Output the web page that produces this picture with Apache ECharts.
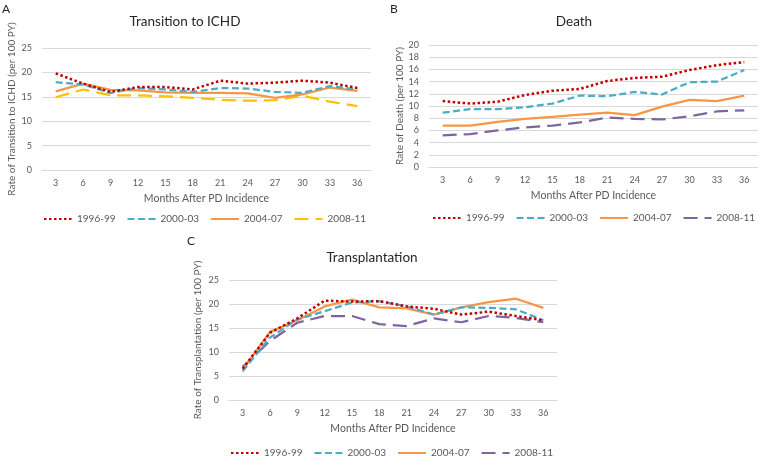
<!DOCTYPE html>
<html>
<head>
<meta charset="utf-8">
<script src="https://cdn.jsdelivr.net/npm/echarts@6/dist/echarts.min.js"></script>
<style>html,body{margin:0;padding:0;background:#fff}#c{width:759px;height:457px}</style>
</head>
<body>
<div id="c"></div>
<script>
// ---- data ----
const months = ['3','6','9','12','15','18','21','24','27','30','33','36'];
const periods = ['1996-99','2000-03','2004-07','2008-11'];

// Panel A: Transition to ICHD
const ichd_1996_99 = [19.8,17.7,16.0,17.0,17.0,16.5,18.3,17.7,17.9,18.3,17.9,16.8];
const ichd_2000_03 = [18.0,17.5,15.8,16.8,16.5,16.0,16.8,16.7,16.0,15.8,17.2,16.5];
const ichd_2004_07 = [16.1,17.7,16.4,16.3,15.9,15.8,15.8,15.7,14.8,15.5,16.9,16.2];
const ichd_2008_11 = [14.9,16.5,15.3,15.3,15.1,14.8,14.4,14.2,14.3,15.2,14.0,13.1];

// Panel B: Death
const death_1996_99 = [10.8,10.4,10.7,11.8,12.5,12.8,14.1,14.6,14.8,15.9,16.7,17.2];
const death_2000_03 = [8.9,9.5,9.5,9.8,10.4,11.7,11.6,12.3,11.9,13.9,14.0,15.9];
const death_2004_07 = [6.8,6.8,7.4,7.9,8.2,8.6,8.9,8.5,9.9,11.0,10.8,11.7];
const death_2008_11 = [5.2,5.4,6.0,6.5,6.8,7.3,8.1,7.9,7.8,8.3,9.1,9.3];

// Panel C: Transplantation
const tx_1996_99 = [6.5,14.0,17.0,20.7,20.5,20.6,19.5,19.0,17.8,18.4,17.5,16.6];
const tx_2000_03 = [6.0,13.0,16.8,18.5,20.3,20.6,19.5,17.8,19.3,19.2,18.9,16.6];
const tx_2004_07 = [6.3,14.2,16.6,19.5,20.9,19.3,19.1,17.8,19.3,20.4,21.1,19.2];
const tx_2008_11 = [6.9,12.3,16.1,17.5,17.5,15.8,15.4,17.0,16.2,17.5,17.1,16.2];

// ---- styles ----
const FONT = 'Lato, "Open Sans", sans-serif';
const TXT = '#595959';
const styleA = [
  {color:'#C00000', type:[2.5,2.5], width:2.5},
  {color:'#4BACC6', type:[7,3.5], width:2.25},
  {color:'#F79646', type:'solid', width:2.25},
  {color:'#FFC000', type:[14,7], width:2.25}
];
const styleBC = [
  {color:'#C00000', type:[2.5,2.5], width:2.5},
  {color:'#4BACC6', type:[7,3.5], width:2.25},
  {color:'#F79646', type:'solid', width:2.25},
  {color:'#8064A2', type:[14,7], width:2.25}
];

const grids = [
  {left:42, right:388, top:48, bottom:287},
  {left:429, right:1, top:45, bottom:290},
  {left:229, right:202, top:280, bottom:57}
];
const yCfg = [
  {max:25, interval:5, name:'Rate of Transition to ICHD (per 100 PY)', gap:25},
  {max:20, interval:2, name:'Rate of Death (per 100 PY)', gap:21},
  {max:25, interval:5, name:'Rate of Transplantation (per 100 PY)', gap:26}
];

const xAxes = grids.map((g,i)=>({
  type:'category', gridIndex:i, data:months, boundaryGap:true,
  axisLine:{lineStyle:{color:'#d9d9d9'}}, axisTick:{show:false},
  axisLabel:{color:TXT, fontFamily:FONT, fontSize:9, margin:9},
  name:'Months After PD Incidence', nameLocation:'middle', nameGap:23,
  nameTextStyle:{color:TXT, fontFamily:FONT, fontSize:10.5}
}));
const yAxes = yCfg.map((c,i)=>({
  type:'value', gridIndex:i, min:0, max:c.max, interval:c.interval,
  axisLine:{show:false}, axisTick:{show:false},
  splitLine:{lineStyle:{color:'#d9d9d9'}},
  axisLabel:{color:TXT, fontFamily:FONT, fontSize:9, margin:10},
  name:c.name, nameLocation:'middle', nameGap:c.gap,
  nameTextStyle:{color:TXT, fontFamily:FONT, fontSize:10}
}));

const panelData = [
  [ichd_1996_99, ichd_2000_03, ichd_2004_07, ichd_2008_11],
  [death_1996_99, death_2000_03, death_2004_07, death_2008_11],
  [tx_1996_99, tx_2000_03, tx_2004_07, tx_2008_11]
];
const tags = ['A','B','C'];
const series = [];
panelData.forEach((arr,pi)=>{
  const st = pi===0 ? styleA : styleBC;
  arr.forEach((d,si)=>{
    series.push({
      name: periods[si]+'|'+tags[pi], type:'line', xAxisIndex:pi, yAxisIndex:pi,
      data:d, symbol:'none', smooth:false, animation:false,
      lineStyle:{color:st[si].color, type:st[si].type, width:st[si].width},
      itemStyle:{color:st[si].color}, z: 10-si
    });
  });
});

const legendPos = [
  {left:38, top:209},
  {left:427, top:208},
  {left:225, top:443}
];
const legends = legendPos.map((p,pi)=>({
  left:p.left, top:p.top, width:360, itemWidth:28, itemHeight:12, itemGap:11,
  data: periods.map(n=>n+'|'+tags[pi]),
  formatter: n=>n.split('|')[0],
  itemStyle:{opacity:0},
  textStyle:{color:TXT, fontFamily:FONT, fontSize:10}, selectedMode:false
}));

const txt = (text,x,y,size,align)=>({type:'text', x:x, y:y,
  style:{text:text, fontFamily:FONT, fontSize:size, fill:'#262626', textAlign:align||'center', textVerticalAlign:'middle'}});

const chart = echarts.init(document.getElementById('c'), null, {renderer:'canvas'});
chart.setOption({
  animation:false,
  grid:grids, xAxis:xAxes, yAxis:yAxes, series:series, legend:legends,
  graphic:[
    txt('A',2,9,12,'left'), txt('B',390,9,12,'left'), txt('C',187,241,12,'left'),
    txt('Transition to ICHD',185,22,13.5), txt('Death',574,22,13.5), txt('Transplantation',372,258,13.5)
  ]
});
</script>
</body>
</html>
